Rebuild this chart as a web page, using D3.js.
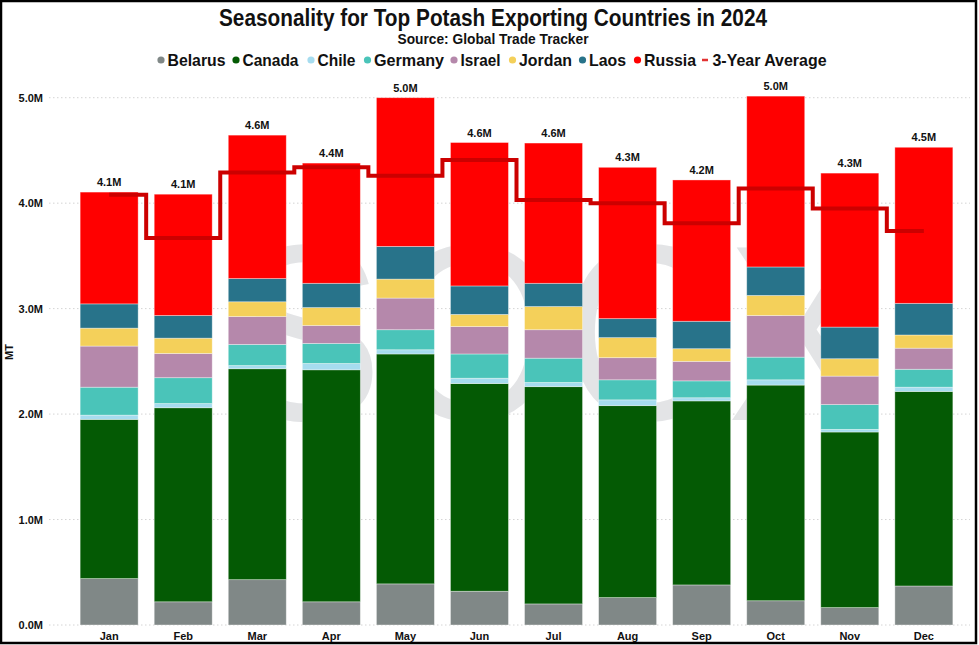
<!DOCTYPE html>
<html>
<head>
<meta charset="utf-8">
<script src="https://cdn.jsdelivr.net/npm/d3@7"></script>
<style>
  body { margin: 0; background: #fff; }
  svg { display: block; }
  text { font-family: "Liberation Sans Narrow", "Arial Narrow", "Liberation Sans", Arial, sans-serif; }
  .tick-lbl { font-family: "Liberation Sans", Arial, sans-serif; font-weight: bold; font-size: 11px; fill: #111; }
</style>
</head>
<body>
<svg id="chart"></svg>
<script>
// Chart data (million tonnes)
var months = ['Jan', 'Feb', 'Mar', 'Apr', 'May', 'Jun', 'Jul', 'Aug', 'Sep', 'Oct', 'Nov', 'Dec']
var countries = ['Belarus', 'Canada', 'Chile', 'Germany', 'Israel', 'Jordan', 'Laos', 'Russia']
var belarus = [0.44, 0.22, 0.43, 0.22, 0.39, 0.32, 0.20, 0.26, 0.38, 0.23, 0.165, 0.37]
var canada  = [1.51, 1.84, 2.00, 2.20, 2.18, 1.97, 2.06, 1.82, 1.745, 2.045, 1.665, 1.845]
var chile   = [0.04, 0.04, 0.03, 0.06, 0.04, 0.05, 0.04, 0.055, 0.03, 0.05, 0.025, 0.04]
var germany = [0.265, 0.245, 0.20, 0.19, 0.19, 0.23, 0.23, 0.19, 0.16, 0.215, 0.235, 0.17]
var israel  = [0.39, 0.23, 0.265, 0.17, 0.30, 0.26, 0.27, 0.21, 0.185, 0.395, 0.27, 0.20]
var jordan  = [0.17, 0.145, 0.14, 0.17, 0.18, 0.115, 0.22, 0.19, 0.12, 0.19, 0.165, 0.125]
var laos    = [0.23, 0.215, 0.22, 0.23, 0.31, 0.27, 0.22, 0.18, 0.26, 0.27, 0.30, 0.30]
var russia  = [1.06, 1.15, 1.36, 1.14, 1.41, 1.36, 1.33, 1.435, 1.34, 1.62, 1.46, 1.48]
var threeYearAvg = [4.08, 3.67, 4.29, 4.34, 4.26, 4.41, 4.03, 4.00, 3.81, 4.14, 3.95, 3.735]
var yTicks = [0, 1, 2, 3, 4, 5]

var colors = ['#808887', '#045a04', '#a6dcef', '#4ac4b9', '#b588ab', '#f4d05a', '#28738a', '#ff0000']
var series = [belarus, canada, chile, germany, israel, jordan, laos, russia]

var width = 979
var height = 645
var svg = d3.select('#chart').attr('width', width).attr('height', height)

// build row objects for d3.stack
var rows = months.map(function (m, i) {
  var r = { month: m }
  countries.forEach(function (c, k) { r[c] = series[k][i] })
  return r
})
var stacked = d3.stack().keys(countries)(rows)
var totals = rows.map(function (r) { return d3.sum(countries, function (c) { return r[c] }) })

var x = d3.scaleBand().domain(months).range([72, 961]).paddingInner(0.217).paddingOuter(0.11)
var y = d3.scaleLinear().domain([0, 5]).range([625, 97.7])

// frame
svg.append('rect').attr('x', 1).attr('y', 1).attr('width', 975).attr('height', 642)
  .attr('fill', 'none').attr('stroke', '#000').attr('stroke-width', 2.5)

// title block
svg.append('text').attr('x', 493).attr('y', 26).attr('text-anchor', 'middle')
  .attr('font-size', 23).attr('font-weight', 'bold').attr('fill', '#111')
  .attr('textLength', 548).attr('lengthAdjust', 'spacingAndGlyphs')
  .text('Seasonality for Top Potash Exporting Countries in 2024')
svg.append('text').attr('x', 493).attr('y', 44).attr('text-anchor', 'middle')
  .attr('font-size', 15).attr('font-weight', 'bold').attr('fill', '#111')
  .attr('textLength', 191).attr('lengthAdjust', 'spacingAndGlyphs')
  .text('Source: Global Trade Tracker')

// legend
var legendX = [161, 236, 311, 367.5, 454, 512.5, 582.5, 637.5]
var legendW = [58, 56, 38, 70, 40, 53, 37, 52]
var legend = svg.append('g')
countries.forEach(function (c, k) {
  legend.append('circle').attr('cx', legendX[k]).attr('cy', 60).attr('r', 3.6).attr('fill', colors[k])
  legend.append('text').attr('x', legendX[k] + 6.5).attr('y', 66)
    .attr('font-size', 17).attr('font-weight', 'bold').attr('fill', '#111')
    .attr('textLength', legendW[k]).attr('lengthAdjust', 'spacingAndGlyphs').text(c)
})
legend.append('line').attr('x1', 702).attr('x2', 708).attr('y1', 60).attr('y2', 60)
  .attr('stroke', '#e23232').attr('stroke-width', 2.5)
legend.append('text').attr('x', 712.5).attr('y', 66)
  .attr('font-size', 17).attr('font-weight', 'bold').attr('fill', '#111')
  .attr('textLength', 114).attr('lengthAdjust', 'spacingAndGlyphs').text('3-Year Average')

// gridlines + y labels
svg.append('g').selectAll('line').data(yTicks).join('line')
  .attr('x1', 49).attr('x2', 970)
  .attr('y1', function (d) { return y(d) }).attr('y2', function (d) { return y(d) })
  .attr('stroke', '#d4d4d4').attr('stroke-width', 1).attr('stroke-dasharray', '1.5,2.5')
svg.append('g').selectAll('text').data(yTicks).join('text')
  .attr('class', 'tick-lbl').attr('x', 43).attr('y', function (d) { return y(d) + 4 })
  .attr('text-anchor', 'end').text(function (d) { return d.toFixed(1) + 'M' })

svg.append('text').attr('class', 'tick-lbl')
  .attr('transform', 'translate(13,352) rotate(-90)').attr('text-anchor', 'middle').text('MT')

// watermark behind bars
svg.append('text').attr('x', 555).attr('y', 420).attr('text-anchor', 'middle')
  .attr('font-family', 'DejaVu Serif, serif').attr('font-size', 250).attr('fill', '#e3e4e6')
  .attr('textLength', 650).attr('lengthAdjust', 'spacingAndGlyphs').text('SOCX')

// stacked bars
svg.append('g').selectAll('g').data(stacked).join('g')
  .attr('fill', function (d, k) { return colors[k] })
  .selectAll('rect').data(function (d) { return d }).join('rect')
  .attr('x', function (d) { return x(d.data.month) })
  .attr('width', x.bandwidth())
  .attr('y', function (d) { return y(d[1]) })
  .attr('height', function (d) { return y(d[0]) - y(d[1]) })
  .attr('stroke', '#ffffff').attr('stroke-opacity', 0.45).attr('stroke-width', 0.8)

// x labels
svg.append('g').selectAll('text').data(months).join('text')
  .attr('class', 'tick-lbl').attr('x', function (d) { return x(d) + x.bandwidth() / 2 })
  .attr('y', 640).attr('text-anchor', 'middle').text(function (d) { return d })

// 3-year average step line
var line = d3.line()
  .x(function (d, i) { return x(months[i]) + x.bandwidth() / 2 })
  .y(function (d) { return y(d) })
  .curve(d3.curveStep)
svg.append('path').datum(threeYearAvg).attr('d', line)
  .attr('fill', 'none').attr('stroke', '#cc0000').attr('stroke-width', 4)

// total labels
svg.append('g').selectAll('text').data(totals).join('text')
  .attr('class', 'tick-lbl').attr('x', function (d, i) { return x(months[i]) + x.bandwidth() / 2 })
  .attr('y', function (d) { return y(d) - 6 }).attr('text-anchor', 'middle')
  .text(function (d) { return d.toFixed(1) + 'M' })
</script>
</body>
</html>
